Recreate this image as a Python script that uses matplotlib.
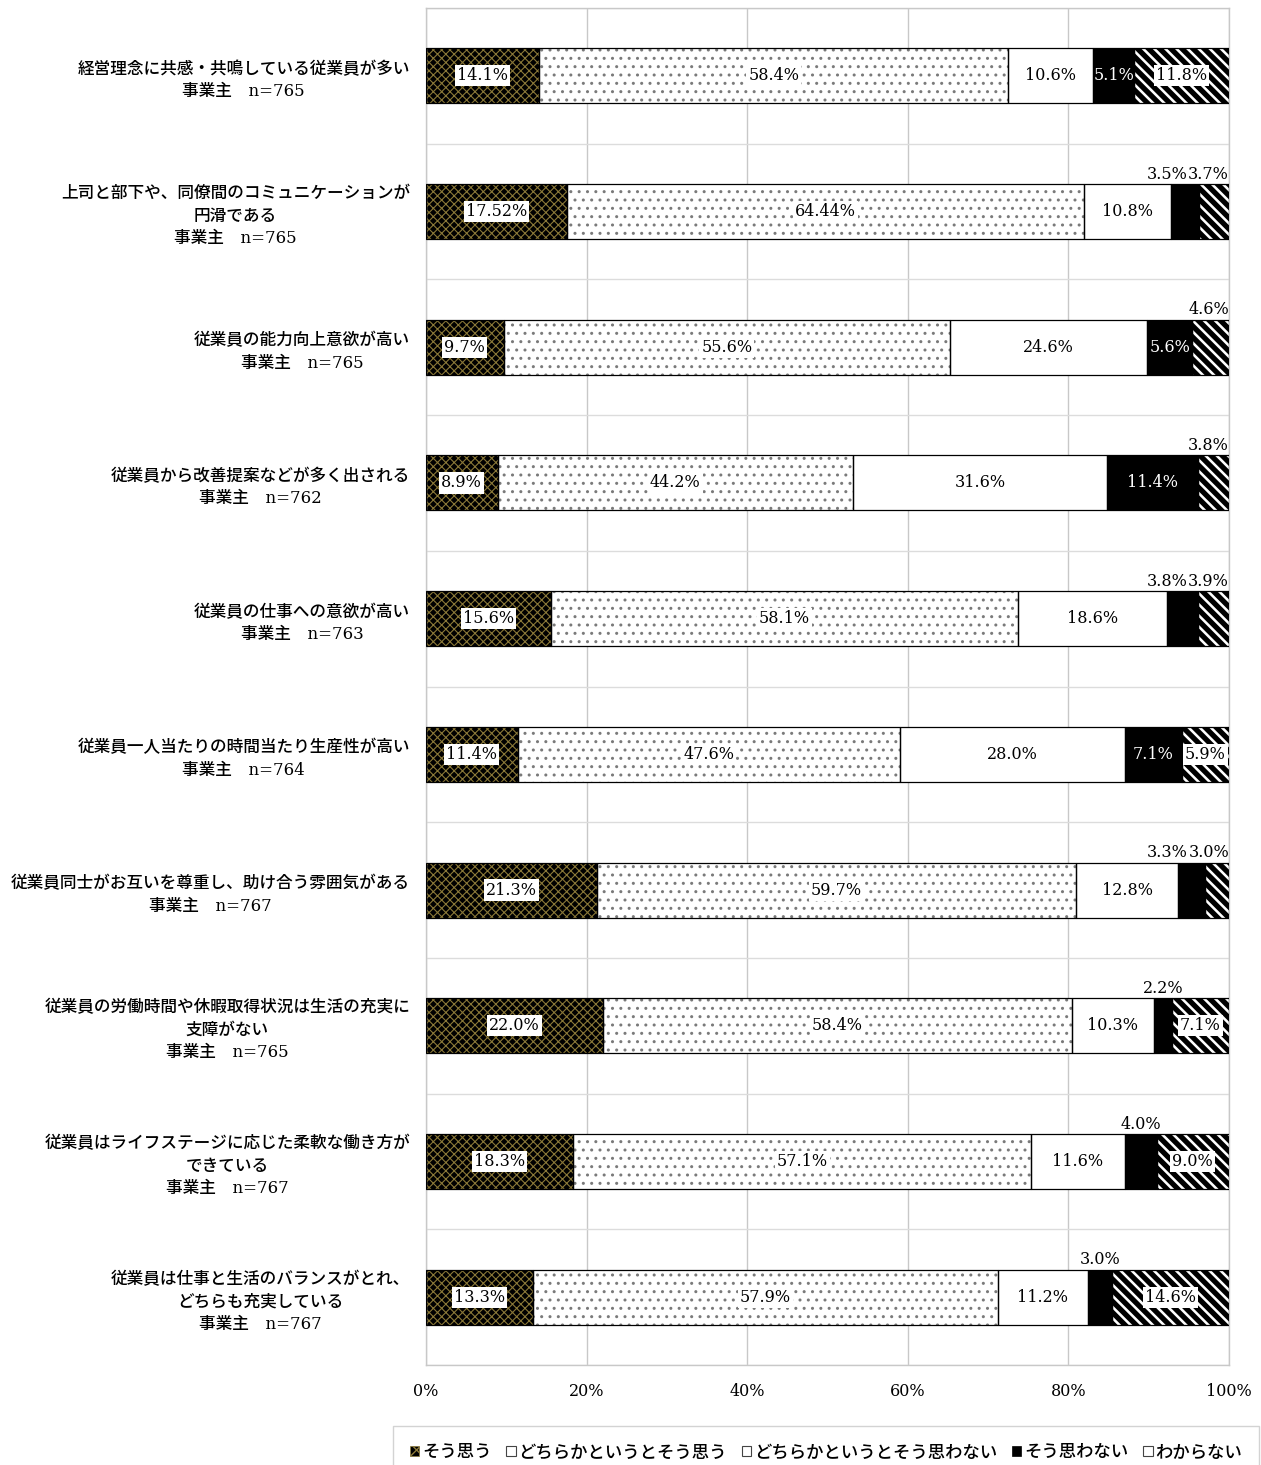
import matplotlib
matplotlib.use("Agg")
import matplotlib as mpl
import matplotlib.pyplot as plt
from matplotlib.patches import Patch
import numpy as np

categories = [
    "経営理念に共感・共鳴している従業員が多い\n事業主　n=765",
    "上司と部下や、同僚間のコミュニケーションが\n円滑である\n事業主　n=765",
    "従業員の能力向上意欲が高い\n事業主　n=765",
    "従業員から改善提案などが多く出される\n事業主　n=762",
    "従業員の仕事への意欲が高い\n事業主　n=763",
    "従業員一人当たりの時間当たり生産性が高い\n事業主　n=764",
    "従業員同士がお互いを尊重し、助け合う雰囲気がある\n事業主　n=767",
    "従業員の労働時間や休暇取得状況は生活の充実に\n支障がない\n事業主　n=765",
    "従業員はライフステージに応じた柔軟な働き方が\nできている\n事業主　n=767",
    "従業員は仕事と生活のバランスがとれ、\nどちらも充実している\n事業主　n=767",
]
series_names = ["そう思う", "どちらかというとそう思う", "どちらかというとそう思わない", "そう思わない", "わからない"]
agree = [14.1, 17.52, 9.7, 8.9, 15.6, 11.4, 21.3, 22.0, 18.3, 13.3]
somewhat_agree = [58.4, 64.44, 55.6, 44.2, 58.1, 47.6, 59.7, 58.4, 57.1, 57.9]
somewhat_disagree = [10.6, 10.8, 24.6, 31.6, 18.6, 28.0, 12.8, 10.3, 11.6, 11.2]
disagree = [5.1, 3.5, 5.6, 11.4, 3.8, 7.1, 3.3, 2.2, 4.0, 3.0]
dont_know = [11.8, 3.7, 4.6, 3.8, 3.9, 5.9, 3.0, 7.1, 9.0, 14.6]
label_texts = [
    ["14.1%", "17.52%", "9.7%", "8.9%", "15.6%", "11.4%", "21.3%", "22.0%", "18.3%", "13.3%"],
    ["58.4%", "64.44%", "55.6%", "44.2%", "58.1%", "47.6%", "59.7%", "58.4%", "57.1%", "57.9%"],
    ["10.6%", "10.8%", "24.6%", "31.6%", "18.6%", "28.0%", "12.8%", "10.3%", "11.6%", "11.2%"],
    ["5.1%", "3.5%", "5.6%", "11.4%", "3.8%", "7.1%", "3.3%", "2.2%", "4.0%", "3.0%"],
    ["11.8%", "3.7%", "4.6%", "3.8%", "3.9%", "5.9%", "3.0%", "7.1%", "9.0%", "14.6%"],
]
xticks = [0, 20, 40, 60, 80, 100]
xtick_labels = ["0%", "20%", "40%", "60%", "80%", "100%"]

raw_series = [agree, somewhat_agree, somewhat_disagree, disagree, dont_know]
values = np.array(raw_series, dtype=float)
values = values / values.sum(axis=0) * 100.0

# styles: (facecolor, hatch, hatchcolor, hatch linewidth)
styles = [
    ("#000000", "xxxx", "#8a7838", 0.8),
    ("#ffffff", "..", "#7a7a7a", 1.0),
    ("#ffffff", None, None, 1.0),
    ("#000000", None, None, 1.0),
    ("#ffffff", "\\\\\\", "#000000", 3.8),
]

SERIF = "DejaVu Serif"
CJK = "Noto Sans CJK JP"

fig = plt.figure(figsize=(12.61, 14.65), dpi=100)
ax = fig.add_axes([426 / 1261, 1 - 1365 / 1465, (1229 - 426) / 1261, (1365 - 8) / 1465])

n = len(categories)
y = np.arange(n)
bar_h = 0.405


def hatch_lw(patch, lw):
    if hasattr(patch, "set_hatch_linewidth"):
        try:
            patch.set_hatch_linewidth(lw)
        except Exception:
            pass
    orig = patch.draw

    def draw(renderer, _orig=orig, _lw=lw):
        with mpl.rc_context({"hatch.linewidth": _lw}):
            _orig(renderer)
    patch.draw = draw


left = np.zeros(n)
for i in range(5):
    fc, hatch, hc, hlw = styles[i]
    ax.barh(y, values[i], left=left, height=bar_h, color=fc, linewidth=0, zorder=2)
    if hatch:
        with mpl.rc_context({"hatch.linewidth": hlw}):
            bars = ax.barh(y, values[i], left=left, height=bar_h, facecolor="none",
                           edgecolor=hc, linewidth=0, hatch=hatch, zorder=3)
        for p in bars:
            hatch_lw(p, hlw)
    ax.barh(y, values[i], left=left, height=bar_h, facecolor="none",
            edgecolor="#000000", linewidth=0.9, zorder=4)
    left = left + values[i]

# data labels
cum = np.vstack([np.zeros(n), np.cumsum(values, axis=0)])
LFS = 11.5
for j in range(n):
    for i in range(5):
        txt = label_texts[i][j]
        start, end = cum[i, j], cum[i + 1, j]
        center = (start + end) / 2
        raw = raw_series[i][j]
        if raw < 5:
            top = j - bar_h / 2
            if i == 4:
                ax.annotate(txt, xy=(100, top), xytext=(0, 1), textcoords="offset points",
                            ha="right", va="bottom", fontsize=LFS, family=SERIF, zorder=6)
            elif i == 3 and dont_know[j] < 5:
                ax.annotate(txt, xy=(100, top), xytext=(-30, 1), textcoords="offset points",
                            ha="right", va="bottom", fontsize=LFS, family=SERIF, zorder=6)
            else:
                ax.annotate(txt, xy=(center, top), xytext=(0, 1), textcoords="offset points",
                            ha="center", va="bottom", fontsize=LFS, family=SERIF, zorder=6)
        else:
            if i == 3:
                ax.text(center, j, txt, ha="center", va="center", fontsize=LFS, family=SERIF,
                        color="white", zorder=6)
            else:
                ax.text(center, j, txt, ha="center", va="center", fontsize=LFS, family=SERIF,
                        color="black", zorder=6,
                        bbox=dict(facecolor="white", edgecolor="none", pad=1.5))

ax.set_xlim(0, 100)
ax.set_ylim(n - 0.5, -0.5)
ax.set_xticks(xticks)
ax.set_xticklabels(xtick_labels, family=SERIF, fontsize=11.5)
ax.set_yticks(y)
ax.set_yticklabels(categories, fontsize=12, family=[SERIF, CJK], linespacing=1.42,
                   fontweight="medium")
for t in ax.get_yticklabels():
    t.set_multialignment("center")
ax.set_yticks(np.arange(-0.5, n, 1.0), minor=True)
ax.tick_params(axis="both", which="both", length=0)
ax.tick_params(axis="x", pad=13)
ax.tick_params(axis="y", pad=11.5)
ax.grid(True, axis="x", which="major", color="#c8c8c8", linewidth=1.0, zorder=0)
ax.grid(True, axis="y", which="minor", color="#dcdcdc", linewidth=1.0, zorder=0)
ax.set_axisbelow(True)
for s in ax.spines.values():
    s.set_color("#c8c8c8")
    s.set_linewidth(1.0)

handles = []
for i in range(5):
    fc, hatch, hc, hlw = styles[i]
    if i == 0:
        h = Patch(facecolor=fc, edgecolor=hc, hatch="xx", linewidth=0.5)
    elif i == 3:
        h = Patch(facecolor="#000000", edgecolor="#000000", linewidth=0.5)
    else:
        h = Patch(facecolor="white", edgecolor="#444444", linewidth=0.8)
    handles.append(h)

leg = fig.legend(handles, series_names, loc="upper center", ncol=5,
                 bbox_to_anchor=(826 / 1261, 1 - 1426 / 1465),
                 prop={"family": [CJK], "size": 12.5, "weight": "medium"},
                 handlelength=0.55, handleheight=0.55, handletextpad=0.15,
                 columnspacing=0.85, frameon=True, fancybox=False,
                 borderpad=1.0, borderaxespad=0)
leg.get_frame().set_edgecolor("#c8c8c8")
leg.get_frame().set_linewidth(1.0)

fig.savefig("out.png", dpi=100)
